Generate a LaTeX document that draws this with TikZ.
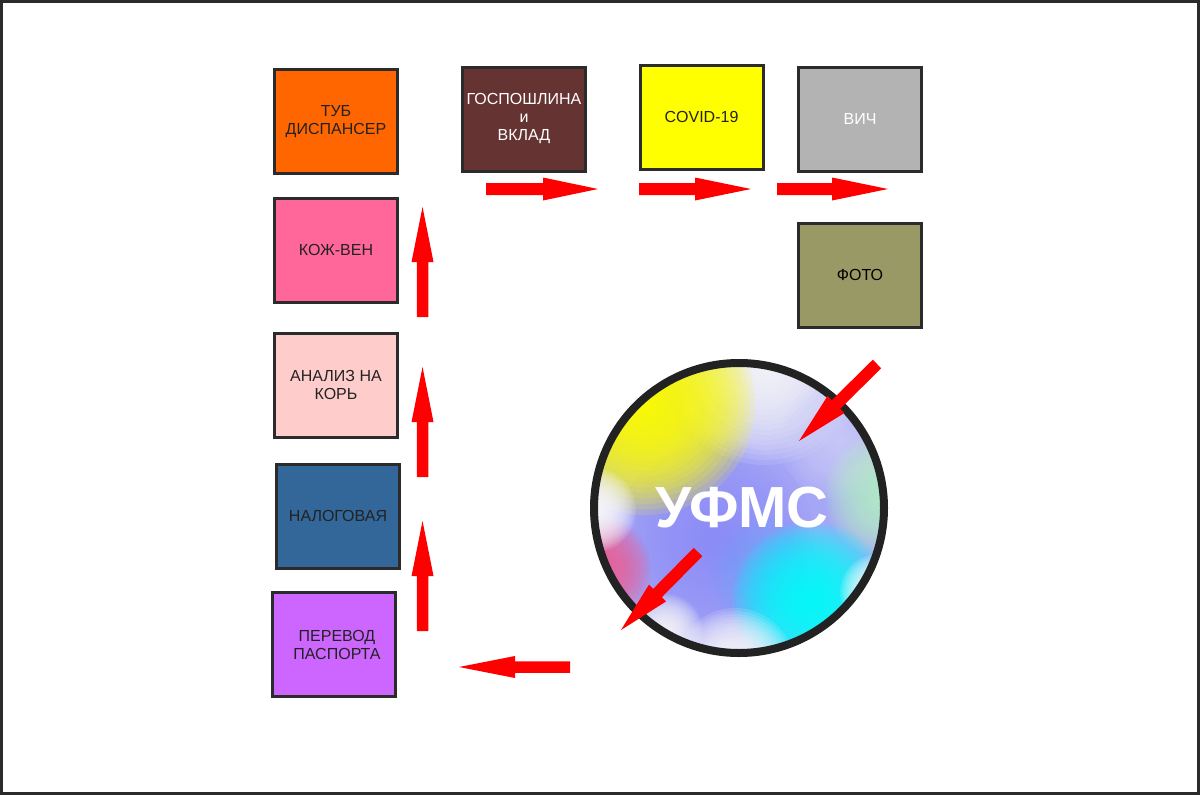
\documentclass[tikz,border=0pt]{standalone}
\usepackage{fontspec}
\setmainfont{Liberation Sans}
\usetikzlibrary{calc}
\definecolor{boxline}{HTML}{2B2B2B}
\definecolor{txtdark}{HTML}{222222}
\definecolor{arrowred}{HTML}{FF0000}
\definecolor{cTub}{HTML}{FF6600}
\definecolor{cKozh}{HTML}{FF6699}
\definecolor{cKor}{HTML}{FFCCCC}
\definecolor{cNal}{HTML}{336699}
\definecolor{cPer}{HTML}{CC66FF}
\definecolor{cGos}{HTML}{663333}
\definecolor{cCov}{HTML}{FFFF00}
\definecolor{cVich}{HTML}{B3B3B3}
\definecolor{cFoto}{HTML}{999966}
\definecolor{ringc}{HTML}{222222}
\definecolor{lav}{HTML}{A6A6F6}
\definecolor{midblue}{HTML}{8C8CFA}
\definecolor{skyb}{HTML}{70A8FF}
\definecolor{lgreen}{HTML}{B8F4C4}
\definecolor{pinkb}{HTML}{F05C92}
\definecolor{cyanb}{HTML}{00FFFF}
\definecolor{paleLav}{HTML}{D4D4F8}
\newcommand\blockarr[5]{%
  \path ($(#2)!#5!(#1)$) coordinate (hb);
  \fill[arrowred] ($(#1)!#3!90:(#2)$) -- ($(hb)!#3!90:(#2)$) -- ($(hb)!#4!90:(#2)$) -- (#2)
    -- ($(hb)!#4!-90:(#2)$) -- ($(hb)!#3!-90:(#2)$) -- ($(#1)!#3!-90:(#2)$) -- cycle;
}
\newcommand\softblob[5]{% color, x, y, radius, opacity per layer
  \foreach \k in {1,...,20}{\fill[#1, fill opacity=#5] (#2,#3) circle ({#4*\k/20});}%
}
\tikzset{
  box/.style={draw=boxline, line width=3pt, minimum width=123pt, minimum height=104pt,
    inner sep=0pt, align=center, font=\fontsize{16}{18}\selectfont, text=txtdark},
}
\begin{document}
\begin{tikzpicture}[x=1pt,y=-1pt]
\useasboundingbox (0,0) rectangle (1200,795);
\fill[white] (0,0) rectangle (1200,795);
\draw[boxline, line width=3pt] (1.5,1.5) rectangle (1198.5,793.5);

% boxes
\node[box, fill=cTub] (tub) at (336,121.5) {ТУБ\\ДИСПАНСЕР};
\node[box, fill=cKozh] (kozh) at (336,250) {КОЖ-ВЕН};
\node[box, fill=cKor] (kor) at (336,385) {АНАЛИЗ НА\\КОРЬ};
\node[box, fill=cNal] (nal) at (338,516) {НАЛОГОВАЯ};
\node[box, fill=cPer] (per) at (334,644.5) {\hspace*{6pt}ПЕРЕВОД\\\hspace*{6pt}ПАСПОРТА};
\node[box, fill=cGos, text=white] (gos) at (524,119) {ГОСПОШЛИНА\\и\\ВКЛАД};
\node[box, fill=cCov] (cov) at (701.5,117) {COVID-19};
\node[box, fill=cVich, text=white] (vich) at (860,119) {ВИЧ};
\node[box, fill=cFoto, text=black] (foto) at (860,275) {ФОТО};

% circle fill
\begin{scope}
  \clip (739,508) circle (146);
  \fill[lav] (739,508) circle (150);
  \softblob{midblue}{715}{540}{100}{0.08}
  \softblob{skyb}{770}{575}{60}{0.07}
  \softblob{white}{765}{365}{100}{0.1}
  \softblob{paleLav}{840}{440}{60}{0.08}
  \softblob{cCov}{645}{405}{110}{0.14}
  \softblob{lgreen}{890}{495}{65}{0.11}
  \softblob{cyanb}{812}{602}{80}{0.13}
  \softblob{white}{878}{592}{38}{0.12}
  \softblob{white}{735}{668}{60}{0.12}
  \softblob{white}{665}{632}{38}{0.1}
  \softblob{pinkb}{596}{570}{55}{0.12}
  \softblob{white}{594}{510}{42}{0.12}
\end{scope}
\node[circle, draw=ringc, line width=8pt, minimum size=290pt, inner sep=0pt,
  text=white, font=\fontsize{58}{62}\selectfont\bfseries] (ufms) at (739,508) {\hspace*{6pt}УФМС};

% arrows
\coordinate (a1s) at (486,189); \coordinate (a1e) at (598,189);
\coordinate (a2s) at (639,189); \coordinate (a2e) at (751,189);
\coordinate (a3s) at (777,189); \coordinate (a3e) at (888,189);
\coordinate (u1s) at (422.5,317); \coordinate (u1e) at (422.5,207);
\coordinate (u2s) at (422.5,477); \coordinate (u2e) at (422.5,367);
\coordinate (u3s) at (422.5,631); \coordinate (u3e) at (422.5,521);
\coordinate (l1s) at (570,667); \coordinate (l1e) at (459,667);
\coordinate (d1s) at (877,364); \coordinate (d1e) at (799,441);
\coordinate (d2s) at (698,552); \coordinate (d2e) at (621,630);
\blockarr{a1s}{a1e}{6pt}{11.5pt}{55pt}
\blockarr{a2s}{a2e}{6pt}{11.5pt}{56pt}
\blockarr{a3s}{a3e}{6pt}{11.5pt}{56pt}
\blockarr{u1s}{u1e}{5.75pt}{11pt}{55pt}
\blockarr{u2s}{u2e}{5.75pt}{11pt}{55pt}
\blockarr{u3s}{u3e}{5.75pt}{11pt}{55pt}
\blockarr{l1s}{l1e}{5.75pt}{11pt}{56pt}
\blockarr{d1s}{d1e}{6pt}{12pt}{52pt}
\blockarr{d2s}{d2e}{6pt}{12pt}{52pt}
\end{tikzpicture}
\end{document}
